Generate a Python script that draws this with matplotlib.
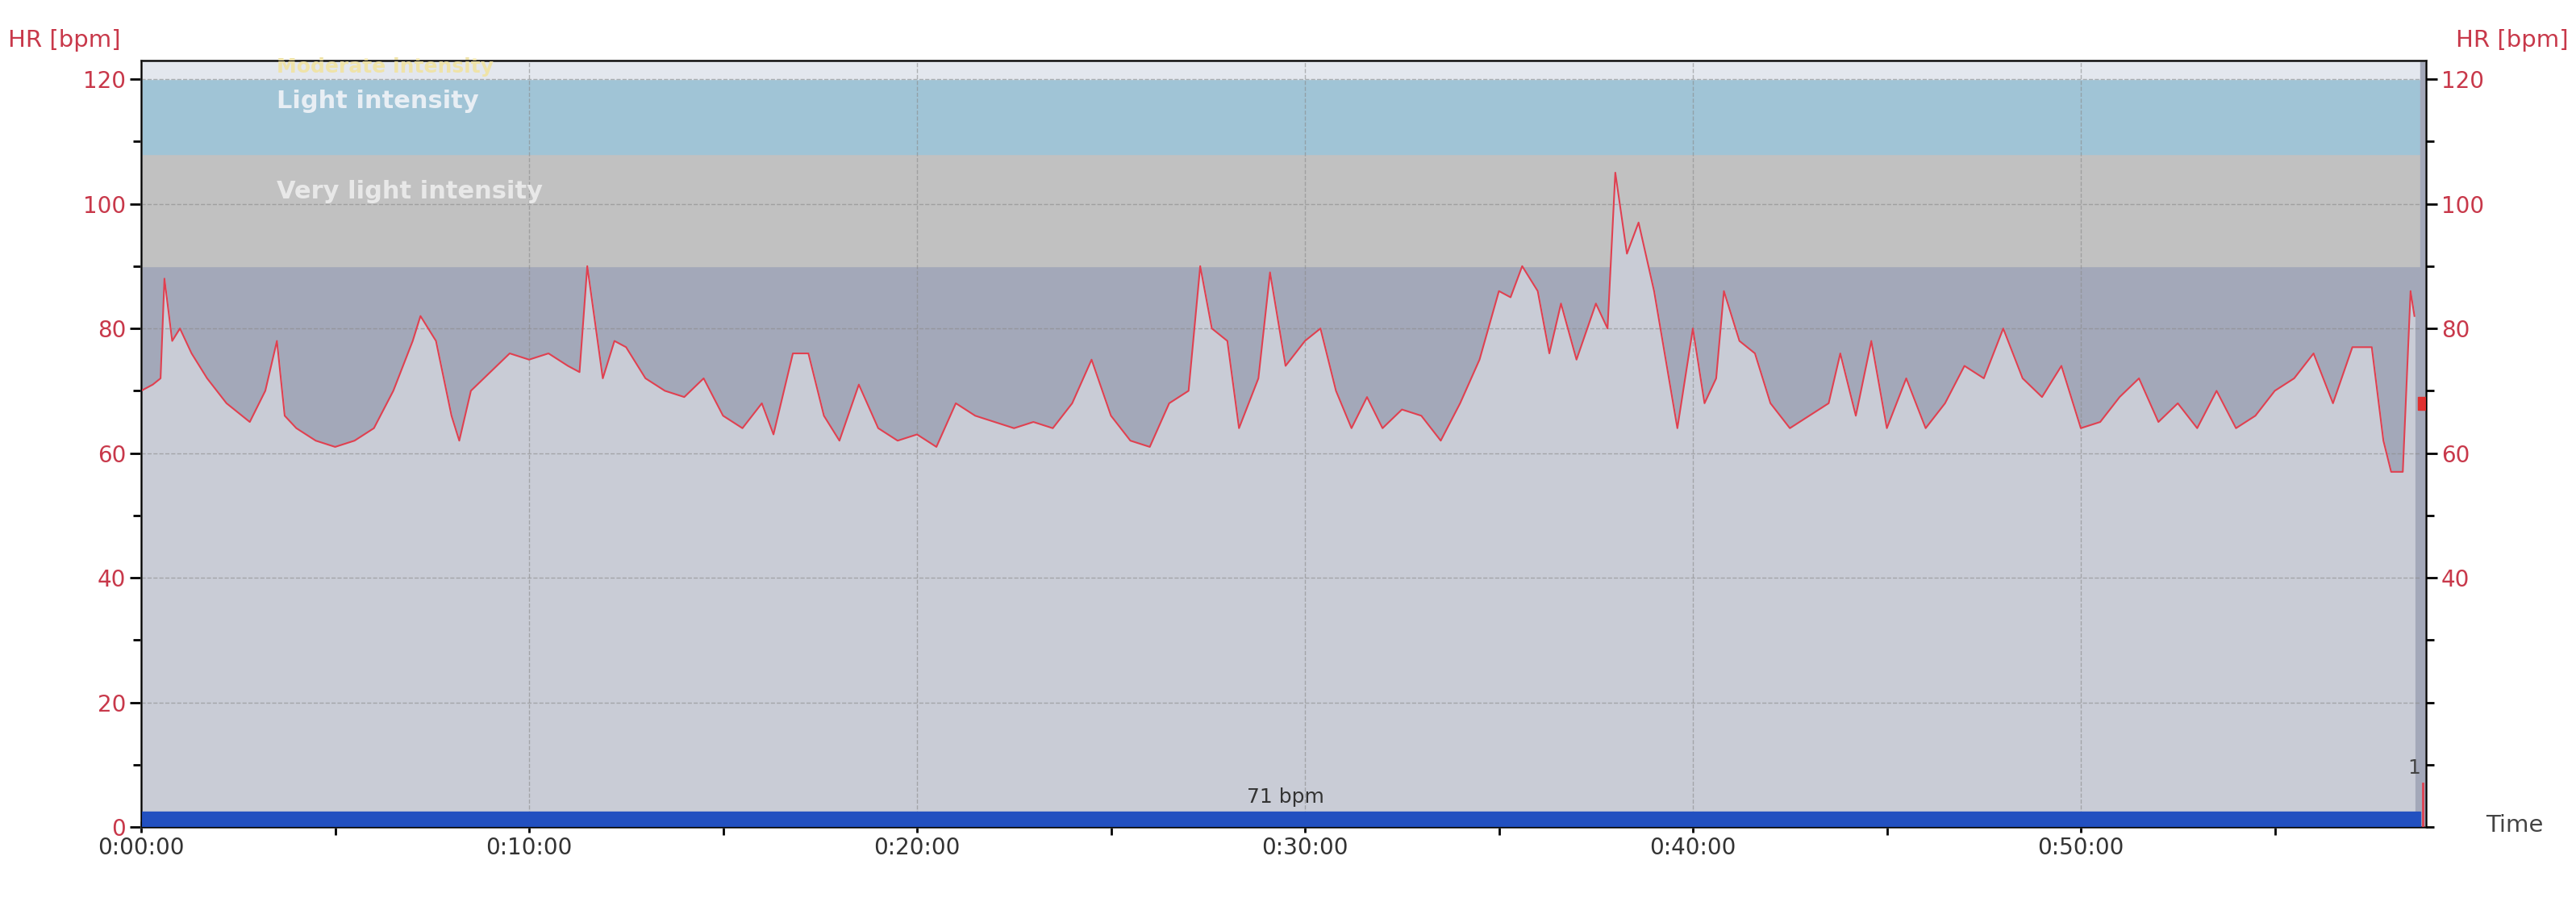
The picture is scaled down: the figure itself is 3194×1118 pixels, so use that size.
import matplotlib.pyplot as plt
import numpy as np

# heart rate samples (minutes, bpm)
minutes = [0, 0.3, 0.5, 0.6, 0.8, 1.0, 1.3, 1.7, 2.2, 2.8, 3.2, 3.5, 3.7, 4.0, 4.5, 5.0, 5.5, 6.0,
           6.5, 7.0, 7.2, 7.6, 8.0, 8.2, 8.5, 9.0, 9.5, 10, 10.5, 11, 11.3, 11.5, 11.9, 12.2, 12.5,
           13, 13.5, 14, 14.5, 15, 15.5, 16, 16.3, 16.8, 17.2, 17.6, 18, 18.5, 19, 19.5, 20, 20.5,
           21, 21.5, 22, 22.5, 23, 23.5, 24, 24.5, 25, 25.5, 26, 26.5, 27, 27.3, 27.6, 28, 28.3,
           28.8, 29.1, 29.5, 30, 30.4, 30.8, 31.2, 31.6, 32, 32.5, 33, 33.5, 34, 34.5, 35, 35.3,
           35.6, 36, 36.3, 36.6, 37, 37.5, 37.8, 38.0, 38.3, 38.6, 39, 39.3, 39.6, 40, 40.3, 40.6,
           40.8, 41.2, 41.6, 42, 42.5, 43, 43.5, 43.8, 44.2, 44.6, 45, 45.5, 46, 46.5, 47, 47.5,
           48, 48.5, 49, 49.5, 50, 50.5, 51, 51.5, 52, 52.5, 53, 53.5, 54, 54.5, 55, 55.5, 56,
           56.5, 57, 57.5, 57.8, 58.0, 58.3, 58.5, 58.6]
hr = [70, 71, 72, 88, 78, 80, 76, 72, 68, 65, 70, 78, 66, 64, 62, 61, 62, 64,
      70, 78, 82, 78, 66, 62, 70, 73, 76, 75, 76, 74, 73, 90, 72, 78, 77,
      72, 70, 69, 72, 66, 64, 68, 63, 76, 76, 66, 62, 71, 64, 62, 63, 61,
      68, 66, 65, 64, 65, 64, 68, 75, 66, 62, 61, 68, 70, 90, 80, 78, 64,
      72, 89, 74, 78, 80, 70, 64, 69, 64, 67, 66, 62, 68, 75, 86, 85,
      90, 86, 76, 84, 75, 84, 80, 105, 92, 97, 86, 75, 64, 80, 68, 72,
      86, 78, 76, 68, 64, 66, 68, 76, 66, 78, 64, 72, 64, 68, 74, 72,
      80, 72, 69, 74, 64, 65, 69, 72, 65, 68, 64, 70, 64, 66, 70, 72, 76,
      68, 77, 77, 62, 57, 57, 86, 82]

zones = [(0, 90, '#a3a8b9'), (90, 108, '#c1c1c1'), (108, 120, '#a0c4d6'), (120, 125, '#e3e7ee')]
zone_labels = ['Very light intensity', 'Light intensity', 'Moderate intensity']
zone_label_y = [102, 116.5, 122]
avg_hr = 71
end_min = 58.9

fig = plt.figure(figsize=(31.94, 11.18), dpi=100)
ax = fig.add_axes([0.0548, 0.083, 0.887, 0.85])
red = '#c8384a'

for lo, hi, c in zones:
    ax.axhspan(lo, hi, color=c, zorder=0)
ax.axvspan(58.75, end_min, color='#a3a8b9', zorder=2)

ax.fill_between(minutes, hr, 0, color='#c9ccd6', zorder=1)
ax.plot(minutes, hr, color='#e04050', lw=1.5, zorder=3)

for lbl, y, col, fs in zip(zone_labels, zone_label_y, ['#e8e8e8', '#e8eef4', '#efe3a8'], [22, 22, 18]):
    ax.text(3.5, y, lbl, color=col, fontsize=fs, fontweight='bold', va='center', zorder=4)

ax.axhspan(0, 2.5, xmin=0, xmax=58.75 / end_min, color='#2250c0', zorder=4)
ax.text(29.5, 3.3, f'{avg_hr} bpm', ha='center', va='bottom', fontsize=18, color='#333333', zorder=5)
ax.plot([58.82, 58.82], [0, 7], color='#e04050', lw=2, zorder=5)
ax.text(58.75, 9.5, '1', ha='right', va='center', fontsize=18, color='#444444', zorder=5)
ax.plot([58.85], [68], marker='s', color='#e03030', ms=12, zorder=6)

ax.set_xlim(0, end_min)
ax.set_ylim(0, 123)
ax.grid(True, color='#8a8a8a', ls='--', lw=1, alpha=0.6)
for l in ax.get_xgridlines() + ax.get_ygridlines():
    l.set_zorder(2.5)

xt = np.arange(0, 60, 10)
ax.set_xticks(xt)
ax.set_xticklabels([f'0:{m:02d}:00' for m in xt], fontsize=20, color='#333333')
ax.set_xticks(np.arange(0, 59, 5), minor=True)
ax.set_yticks(np.arange(0, 121, 20))
ax.set_yticks(np.arange(0, 121, 10), minor=True)
ax.tick_params(axis='y', labelsize=20, labelcolor=red, length=10, width=2)
ax.tick_params(axis='x', length=10, width=2, direction='inout')
ax.tick_params(which='minor', length=7, width=2)
for s in ax.spines.values():
    s.set_color('#444444')
    s.set_linewidth(2)

ax2 = ax.twinx()
ax2.set_ylim(0, 123)
ax2.set_yticks([40, 60, 80, 100, 120])
ax2.set_yticks(np.arange(0, 121, 10), minor=True)
ax2.tick_params(axis='y', labelsize=20, labelcolor=red, length=10, width=2)
ax2.tick_params(which='minor', length=7, width=2)

fig.text(0.003, 0.955, 'HR [bpm]', fontsize=21, color=red, ha='left', va='center')
fig.text(0.997, 0.955, 'HR [bpm]', fontsize=21, color=red, ha='right', va='center')
fig.text(0.965, 0.085, 'Time', fontsize=21, color='#444444', ha='left', va='center')

fig.savefig('out.png', dpi=100)
